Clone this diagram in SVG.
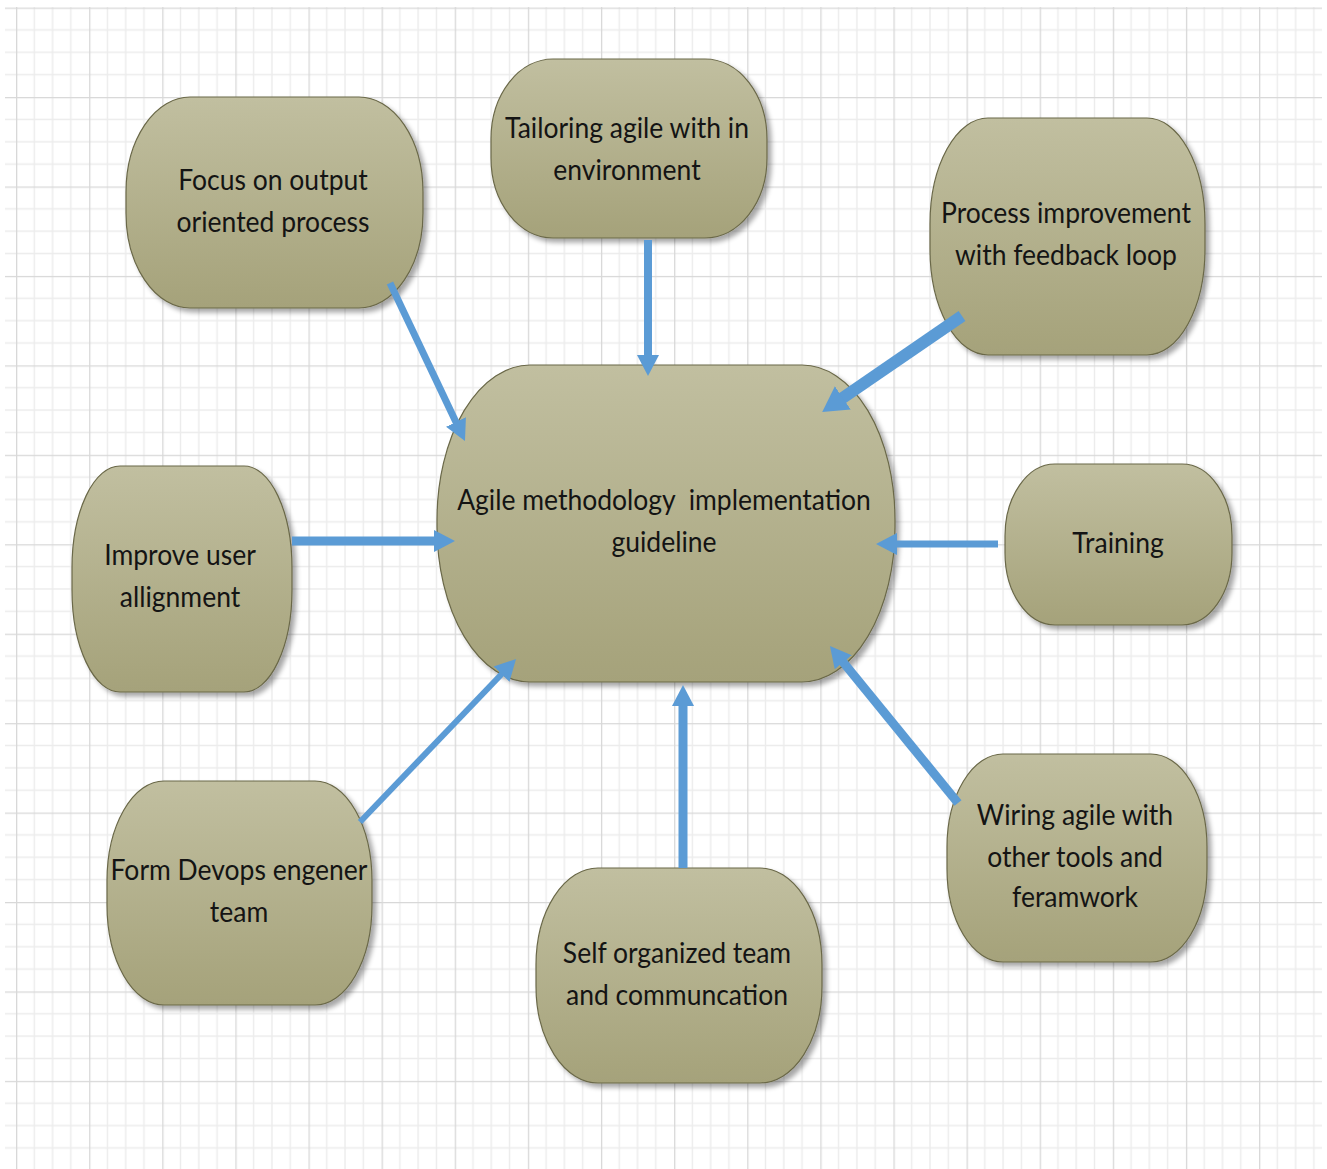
<svg xmlns="http://www.w3.org/2000/svg" width="1327" height="1169" viewBox="0 0 1327 1169">
  <defs>
    <!-- graph paper: 4x4 minor cells per major cell -->
    <pattern id="grid" patternUnits="userSpaceOnUse" x="16" y="7.6" width="73.12" height="89.44">
      <g stroke="#ececec" stroke-width="1.4" fill="none">
        <line x1="18.28" y1="0" x2="18.28" y2="89.44"/>
        <line x1="36.56" y1="0" x2="36.56" y2="89.44"/>
        <line x1="54.84" y1="0" x2="54.84" y2="89.44"/>
        <line x1="0" y1="22.36" x2="73.12" y2="22.36"/>
        <line x1="0" y1="44.72" x2="73.12" y2="44.72"/>
        <line x1="0" y1="67.08" x2="73.12" y2="67.08"/>
      </g>
      <g stroke="#d8d8d8" stroke-width="1.6" fill="none">
        <line x1="0.5" y1="0" x2="0.5" y2="89.44"/>
        <line x1="0" y1="0.5" x2="73.12" y2="0.5"/>
      </g>
    </pattern>
    <linearGradient id="olive" x1="0" y1="0" x2="0" y2="1">
      <stop offset="0" stop-color="#c1bfa0"/>
      <stop offset="1" stop-color="#a5a27a"/>
    </linearGradient>
    <filter id="shadow" x="-10%" y="-10%" width="125%" height="125%">
      <feGaussianBlur in="SourceAlpha" stdDeviation="2.5"/>
      <feOffset dx="4" dy="4" result="off"/>
      <feComponentTransfer><feFuncA type="linear" slope="0.35"/></feComponentTransfer>
      <feMerge><feMergeNode/><feMergeNode in="SourceGraphic"/></feMerge>
    </filter>
    <marker id="head" markerUnits="userSpaceOnUse" markerWidth="24" markerHeight="26" refX="1" refY="13" orient="auto">
      <path d="M0,2 L21,13 L0,24 z" fill="#5b9bd5"/>
    </marker>
    <marker id="headBig" markerUnits="userSpaceOnUse" markerWidth="28" markerHeight="32" refX="1" refY="16" orient="auto">
      <path d="M0,2 L25,16 L0,30 z" fill="#5b9bd5"/>
    </marker>
    <style>
      .node { fill: url(#olive); stroke: #6a6848; stroke-width: 1.2; filter: url(#shadow); }
      .lbl { font-family: Lato, "Liberation Sans", sans-serif; font-size: 26.5px; fill: #141414; text-anchor: middle; }
      .arrow { stroke: #5b9bd5; fill: none; stroke-linecap: butt; marker-end: url(#head); }
    </style>
  </defs>

  <rect width="1327" height="1169" fill="#ffffff"/>
  <rect x="5" y="7" width="1317" height="1162" fill="url(#grid)"/>

  <!-- nodes -->
  <g id="focus">
    <rect class="node" x="126" y="97" width="297" height="211" rx="64" ry="95"/>
    <text class="lbl" transform="translate(273 190) scale(1 1.07)"><tspan x="0" y="0">Focus on output</tspan><tspan x="0" y="39">oriented process</tspan></text>
  </g>
  <g id="tailoring">
    <rect class="node" x="491" y="59" width="276" height="179" rx="62" ry="80"/>
    <text class="lbl" transform="translate(627 138) scale(1 1.07)"><tspan x="0" y="0">Tailoring agile with in</tspan><tspan x="0" y="39">environment</tspan></text>
  </g>
  <g id="process">
    <rect class="node" x="930" y="118" width="275" height="237" rx="58" ry="106"/>
    <text class="lbl" transform="translate(1066 223) scale(1 1.07)"><tspan x="0" y="0">Process improvement</tspan><tspan x="0" y="39">with feedback loop</tspan></text>
  </g>
  <g id="agile">
    <rect class="node" x="437" y="365" width="458" height="317" rx="93" ry="155"/>
    <text class="lbl" style="white-space:pre" transform="translate(664 510) scale(1 1.07)"><tspan x="0" y="0">Agile methodology  implementation</tspan><tspan x="0" y="39">guideline</tspan></text>
  </g>
  <g id="improve">
    <rect class="node" x="72" y="466" width="220" height="226" rx="48" ry="102"/>
    <text class="lbl" transform="translate(180 565) scale(1 1.07)"><tspan x="0" y="0">Improve user</tspan><tspan x="0" y="39">allignment</tspan></text>
  </g>
  <g id="training">
    <rect class="node" x="1005" y="464" width="227" height="161" rx="50" ry="72"/>
    <text class="lbl" transform="translate(1118 553) scale(1 1.07)">Training</text>
  </g>
  <g id="devops">
    <rect class="node" x="107" y="781" width="265" height="224" rx="57" ry="100"/>
    <text class="lbl" transform="translate(239 880) scale(1 1.07)"><tspan x="0" y="0">Form Devops engener</tspan><tspan x="0" y="39">team</tspan></text>
  </g>
  <g id="selforg">
    <rect class="node" x="536" y="868" width="286" height="215" rx="62" ry="97"/>
    <text class="lbl" transform="translate(677 963) scale(1 1.07)"><tspan x="0" y="0">Self organized team</tspan><tspan x="0" y="39">and communcation</tspan></text>
  </g>
  <g id="wiring">
    <rect class="node" x="947" y="754" width="260" height="208" rx="56" ry="93"/>
    <text class="lbl" transform="translate(1075 825) scale(1 1.07)"><tspan x="0" y="0">Wiring agile with</tspan><tspan x="0" y="39">other tools and</tspan><tspan x="0" y="76.5">feramwork</tspan></text>
  </g>

  <!-- connectors, drawn over the shapes so the heads sit on the central node -->
  <g id="connectors">
    <line class="arrow" x1="390" y1="283" x2="456.4" y2="422.9" stroke-width="7"/>
    <line class="arrow" x1="648" y1="240" x2="648" y2="356" stroke-width="8"/>
    <line class="arrow" x1="962" y1="316" x2="842" y2="398.4" stroke-width="12" style="marker-end:url(#headBig)"/>
    <line class="arrow" x1="292" y1="541" x2="435" y2="541" stroke-width="9"/>
    <line class="arrow" x1="998" y1="544" x2="896" y2="544" stroke-width="7"/>
    <line class="arrow" x1="360" y1="822" x2="502.2" y2="673.5" stroke-width="6"/>
    <line class="arrow" x1="683" y1="868" x2="683" y2="705" stroke-width="9"/>
    <line class="arrow" x1="958" y1="803" x2="842.6" y2="661.5" stroke-width="9"/>
  </g>
</svg>
